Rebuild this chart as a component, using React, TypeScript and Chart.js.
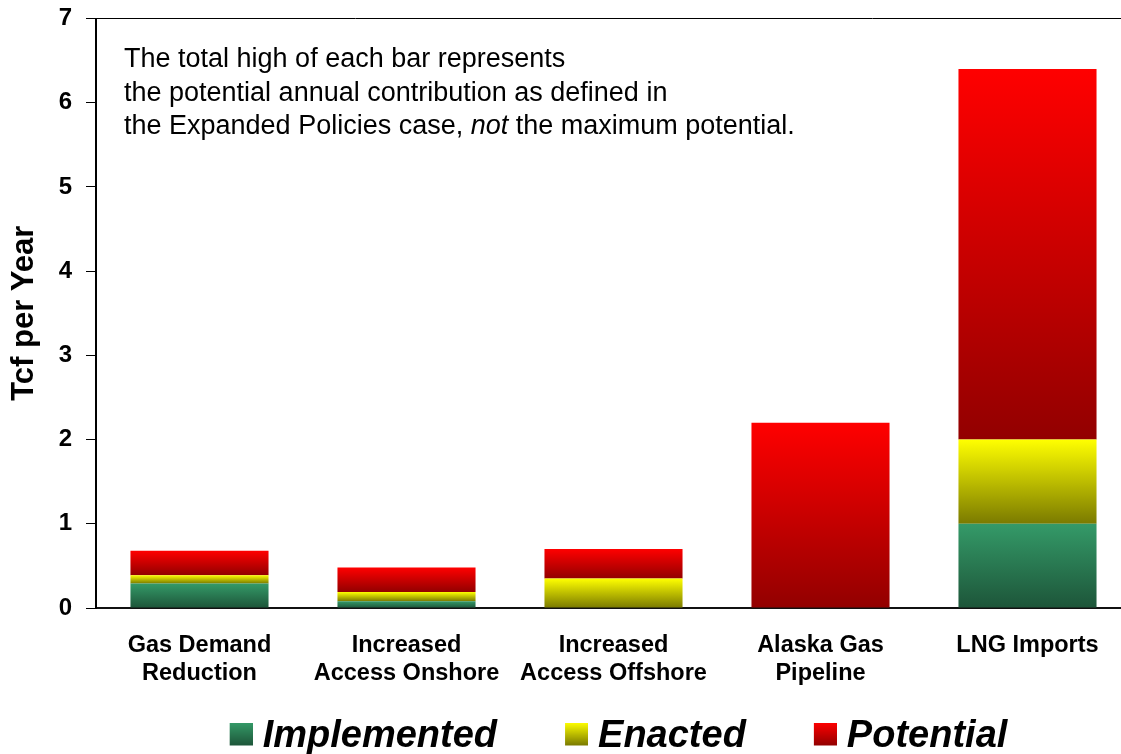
import React, { useEffect, useRef } from 'react';
import { Chart, registerables } from 'chart.js';

Chart.register(...registerables);

// ---------- data ----------
const categories: string[][] = [
  ['Gas Demand', 'Reduction'],
  ['Increased', 'Access Onshore'],
  ['Increased', 'Access Offshore'],
  ['Alaska Gas', 'Pipeline'],
  ['LNG Imports'],
];
const implemented = [0.29, 0.08, 0, 0, 1.0];
const enacted = [0.1, 0.11, 0.35, 0, 1.0];
const potential = [0.29, 0.29, 0.35, 2.2, 4.4];
const seriesLabels = ['Implemented', 'Enacted', 'Potential'];
const yTicks = [0, 1, 2, 3, 4, 5, 6, 7];
const yTitle = 'Tcf per Year';
const noteLines: { text: string; italic?: boolean }[][] = [
  [{ text: 'The total high of each bar represents' }],
  [{ text: 'the potential annual contribution as defined in' }],
  [
    { text: 'the Expanded Policies case, ' },
    { text: 'not', italic: true },
    { text: ' the maximum potential.' },
  ],
];

// ---------- styles ----------
const FF = 'Arial, "Liberation Sans", Helvetica, sans-serif';
const gradientStops: [string, string][] = [
  ['#349a68', '#1d5539'],
  ['#ffff00', '#7a7a00'],
  ['#ff0000', '#920000'],
];

const seriesData = [implemented, enacted, potential];

// legend swatch: 23x23 gradient square at the right/top of a transparent canvas
function makeSwatch(top: string, bottom: string): HTMLCanvasElement {
  const c = document.createElement('canvas');
  c.width = 73;
  c.height = 29;
  const g = c.getContext('2d')!;
  const grad = g.createLinearGradient(0, 0, 0, 23);
  grad.addColorStop(0, top);
  grad.addColorStop(1, bottom);
  g.fillStyle = grad;
  g.fillRect(50, 0, 23, 23);
  return c;
}

function segmentColor(dsIndex: number) {
  return (ctx: any) => {
    const chart = ctx.chart;
    const y = chart.scales && chart.scales.y;
    const i = ctx.dataIndex;
    const [top, bottom] = gradientStops[dsIndex];
    if (!y || i === undefined || !chart.chartArea) return top;
    let start = 0;
    for (let k = 0; k < dsIndex; k++) start += seriesData[k][i];
    const end = start + seriesData[dsIndex][i];
    const yTop = y.getPixelForValue(end);
    const yBot = y.getPixelForValue(start);
    if (!isFinite(yTop) || !isFinite(yBot) || yBot - yTop < 0.5) return top;
    const grad = chart.ctx.createLinearGradient(0, yTop, 0, yBot);
    grad.addColorStop(0, top);
    grad.addColorStop(1, bottom);
    return grad;
  };
}

const notePlugin = {
  id: 'noteText',
  afterDatasetsDraw(chart: any) {
    const { ctx, chartArea } = chart;
    ctx.save();
    ctx.fillStyle = '#000';
    ctx.textBaseline = 'alphabetic';
    ctx.textAlign = 'left';
    const x0 = chartArea.left + 28;
    const y0 = chartArea.top + 48.5;
    noteLines.forEach((segs, li) => {
      let x = x0;
      const y = y0 + li * 33.5;
      segs.forEach((s) => {
        ctx.font = `${s.italic ? 'italic ' : ''}27px ${FF}`;
        ctx.fillText(s.text, x, y);
        x += ctx.measureText(s.text).width;
      });
    });
    ctx.restore();
  },
};

export default function App() {
  const ref = useRef<HTMLCanvasElement | null>(null);

  useEffect(() => {
    const canvas = ref.current;
    if (!canvas) return;
    const swatches = gradientStops.map(([a, b]) => makeSwatch(a, b));

    const chart = new Chart(canvas, {
      type: 'bar',
      data: {
        labels: categories,
        datasets: seriesLabels.map((label, d) => ({
          label,
          data: seriesData[d],
          backgroundColor: segmentColor(d),
          borderWidth: 0,
          barPercentage: 0.667,
          categoryPercentage: 1,
        })),
      },
      options: {
        responsive: false,
        animation: false,
        devicePixelRatio: 1,
        layout: { padding: { top: 18.5, left: 0, right: 0, bottom: 0 } },
        scales: {
          x: {
            stacked: true,
            grid: { display: false, drawTicks: false },
            border: { display: true, color: '#111', width: 2 },
            ticks: {
              color: '#000',
              padding: 24,
              font: { family: FF, size: 23.5, weight: 'bold', lineHeight: 28 / 23.5 },
              maxRotation: 0,
              autoSkip: false,
            },
            afterFit: (s: any) => {
              s.height = 83;
            },
          },
          y: {
            stacked: true,
            min: 0,
            max: 7,
            afterBuildTicks: (s: any) => {
              s.ticks = yTicks.map((v) => ({ value: v }));
            },
            grid: {
              display: true,
              drawOnChartArea: true,
              drawTicks: true,
              tickLength: 10,
              lineWidth: 1,
              tickColor: '#000',
              color: (c: any) => (c.tick && c.tick.value === 7 ? '#000' : 'rgba(0,0,0,0)'),
            },
            border: { display: true, color: '#000', width: 2 },
            ticks: {
              color: '#000',
              padding: 14,
              font: { family: FF, size: 24, weight: 'bold', lineHeight: 0.3 },
            },
            title: {
              display: true,
              text: yTitle,
              color: '#000',
              font: { family: FF, size: 31, weight: 'bold', lineHeight: 1 },
              padding: { top: 8.5, bottom: 0 },
            },
            afterFit: (s: any) => {
              s.width = 96;
            },
          },
          // empty spacer on the right, outside the visible page
          yRightSpacer: {
            type: 'linear',
            position: 'right',
            display: true,
            grid: { display: false, drawTicks: false },
            border: { display: false },
            ticks: { display: false },
            afterFit: (s: any) => {
              s.width = 65;
            },
          },
        },
        plugins: {
          tooltip: { enabled: false },
          legend: {
            display: true,
            position: 'bottom',
            fullSize: true,
            labels: {
              usePointStyle: true,
              pointStyleWidth: 55,
              padding: 27,
              color: '#000',
              font: { family: FF, size: 38, weight: 'bold', style: 'italic' },
              generateLabels: (ch: any) =>
                ch.data.datasets.map((ds: any, i: number) => ({
                  text: ds.label,
                  fillStyle: 'rgba(0,0,0,0)',
                  strokeStyle: 'rgba(0,0,0,0)',
                  lineWidth: 0,
                  pointStyle: swatches[i],
                  hidden: false,
                  datasetIndex: i,
                  fontColor: '#000',
                })),
            },
          },
        },
      } as any,
      plugins: [notePlugin],
    });

    return () => chart.destroy();
  }, []);

  return (
    <div
      style={{
        position: 'absolute',
        left: 0,
        top: 0,
        width: 1121,
        height: 754,
        overflow: 'hidden',
        background: '#fff',
      }}
    >
      <canvas ref={ref} width={1196} height={766} style={{ display: 'block', width: 1196, height: 766 }} />
    </div>
  );
}
